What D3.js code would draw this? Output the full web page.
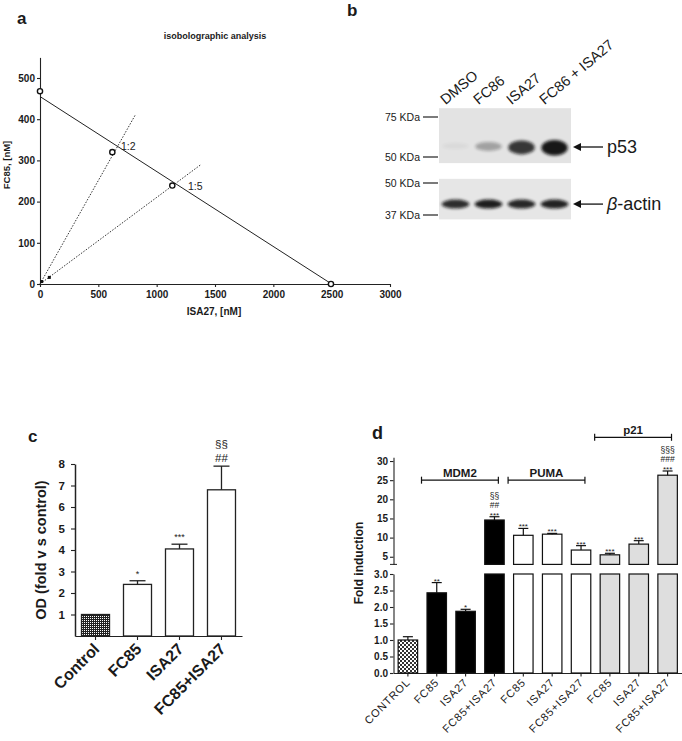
<!DOCTYPE html>
<html><head><meta charset="utf-8">
<script src="https://cdn.jsdelivr.net/npm/d3@7"></script>
<style>
body{margin:0;background:#fff}
svg{display:block}
text{font-family:"Liberation Sans",Arial,sans-serif;fill:#1a1a1a}
</style>
</head><body>
<svg id="fig" width="682" height="741"></svg>
<script>
// ---------------- DATA ----------------
// Panel a: isobologram
const isoXTicks = [0, 500, 1000, 1500, 2000, 2500, 3000];
const isoYTicks = [0, 100, 200, 300, 400, 500];
const isoboleLine = [[0, 455], [2500, 0]];
const isoPointsX = [0, 620, 1134, 2494];
const isoPointsY = [468, 320, 239, 0];
const smallPointsX = [15, 80];
const smallPointsY = [6, 16];
const ratioLabels = ["1:2", "1:5"];
const ratioEndX = [820, 1380];
const ratioEndY = [412, 290];
const ratioLabelX = [694, 1268];
const ratioLabelY = [335, 238];

// Panel b: western blot
const lanes = ["DMSO", "FC86", "ISA27", "FC86 + ISA27"];
const p53Intensity = [0.04, 0.3, 0.8, 0.95];
const actinIntensity = [0.85, 0.92, 0.88, 0.9];
const topMarkers = [75, 50];
const bottomMarkers = [50, 37];
const p53kDa = 56;
const actinkDa = 41;

// Panel c
const cCats = ["Control", "FC85", "ISA27", "FC85+ISA27"];
const cValues = [1.0, 2.4, 4.05, 6.8];
const cErrTop = [1.0, 2.57, 4.27, 7.9];
const cMarks = [[], ["*"], ["***"], ["##", "§§"]];
const cYTicks = [1, 2, 3, 4, 5, 6, 7, 8];

// Panel d
const dCats = ["CONTROL", "FC85", "ISA27", "FC85+ISA27", "FC85", "ISA27", "FC85+ISA27", "FC85", "ISA27", "FC85+ISA27"];
const dGroups = ["control", "MDM2", "MDM2", "MDM2", "PUMA", "PUMA", "PUMA", "p21", "p21", "p21"];
const dValues = [1.0, 2.43, 1.87, 14.6, 10.6, 10.9, 6.75, 5.5, 8.3, 26.3];
const dErrTop = [1.1, 2.74, 1.93, 15.45, 12.4, 11.1, 7.9, 5.9, 9.2, 27.4];
const dMarks = [[], ["**"], ["*"], ["***", "##", "§§"], ["***"], ["***"], ["***"], ["***"], ["***"], ["***", "###", "§§§"]];
const dLowerTicks = [0, 0.5, 1.0, 1.5, 2.0, 2.5, 3.0];
const dUpperTicks = [5, 10, 15, 20, 25, 30];
const dBrackets = [{name: "MDM2", from: 1, to: 3, level: 25}, {name: "PUMA", from: 4, to: 6, level: 25}, {name: "p21", from: 7, to: 9, level: 36.2}];

// ---------------- SETUP ----------------
const svg = d3.select("#fig");
const defs = svg.append("defs");
const patC = defs.append("pattern").attr("id", "patC").attr("width", 2).attr("height", 2).attr("patternUnits", "userSpaceOnUse");
patC.append("rect").attr("width", 2).attr("height", 2).attr("fill", "#222");
patC.append("rect").attr("width", 1).attr("height", 1).attr("fill", "#fff");
const patD = defs.append("pattern").attr("id", "patD").attr("width", 4).attr("height", 4).attr("patternUnits", "userSpaceOnUse");
patD.append("rect").attr("width", 4).attr("height", 4).attr("fill", "#fff");
patD.append("rect").attr("width", 2).attr("height", 2).attr("fill", "#333");
patD.append("rect").attr("x", 2).attr("y", 2).attr("width", 2).attr("height", 2).attr("fill", "#333");
const blur = defs.append("filter").attr("id", "blur").attr("x", "-50%").attr("y", "-100%").attr("width", "200%").attr("height", "300%");
blur.append("feGaussianBlur").attr("stdDeviation", 1.8);

function styleAxis(g, fs) {
  g.selectAll("path,line").attr("stroke", "#222").attr("stroke-width", 1.1);
  g.selectAll("text").attr("font-size", fs).attr("font-weight", "bold").attr("fill", "#1a1a1a").attr("font-family", "Liberation Sans, Arial, sans-serif");
}

// ---------------- PANEL A ----------------
const xA = d3.scaleLinear().domain([0, 3000]).range([40, 390]);
const yA = d3.scaleLinear().domain([0, 550]).range([284, 57.4]);
const gA = svg.append("g");
gA.append("text").attr("x", 17).attr("y", 24).attr("font-size", 17).attr("font-weight", "bold").text("a");
gA.append("text").attr("x", 215).attr("y", 39).attr("text-anchor", "middle").attr("font-size", 9).attr("font-weight", "bold").text("isobolographic analysis");
gA.append("g").attr("transform", "translate(0,284)")
  .call(d3.axisBottom(xA).tickValues(isoXTicks).tickFormat(d3.format("d")).tickSize(3).tickSizeOuter(0).tickPadding(4))
  .call(g => styleAxis(g, 10));
gA.append("g").attr("transform", "translate(40,0)")
  .call(d3.axisLeft(yA).tickValues(isoYTicks).tickSize(3).tickSizeOuter(0).tickPadding(2))
  .call(g => styleAxis(g, 10));
gA.append("text").attr("transform", "translate(10,165) rotate(-90)").attr("text-anchor", "middle").attr("font-size", 9.5).attr("font-weight", "bold").text("FC85, [nM]");
gA.append("text").attr("x", 214).attr("y", 315).attr("text-anchor", "middle").attr("font-size", 10).attr("font-weight", "bold").text("ISA27, [nM]");
const lineA = d3.line().x(d => xA(d[0])).y(d => yA(d[1]));
gA.append("path").attr("d", lineA(isoboleLine)).attr("stroke", "#222").attr("stroke-width", 1).attr("fill", "none");
ratioLabels.forEach((lab, i) => {
  gA.append("path").attr("d", lineA([[0, 0], [ratioEndX[i], ratioEndY[i]]])).attr("stroke", "#333").attr("stroke-width", 1).attr("stroke-dasharray", "1.5,1.5").attr("fill", "none");
  gA.append("text").attr("x", xA(ratioLabelX[i])).attr("y", yA(ratioLabelY[i]) + 4).attr("font-size", 10.5).text(lab);
});
gA.selectAll(".pt").data(isoPointsX).enter().append("circle")
  .attr("cx", d => xA(d)).attr("cy", (d, i) => yA(isoPointsY[i])).attr("r", 2.6)
  .attr("fill", "#fff").attr("stroke", "#111").attr("stroke-width", 1.4);
gA.selectAll(".sp").data(smallPointsX).enter().append("rect")
  .attr("x", d => xA(d) - 1.5).attr("y", (d, i) => yA(smallPointsY[i]) - 1.5).attr("width", 3).attr("height", 3).attr("fill", "#111");

// ---------------- PANEL B ----------------
const gB = svg.append("g");
gB.append("text").attr("x", 347).attr("y", 16).attr("font-size", 17).attr("font-weight", "bold").attr("font-family", "Liberation Serif, serif").text("b");
const xB = d3.scaleBand().domain(lanes).range([439, 571]);
const yTop = d3.scaleLog().domain([50, 75]).range([157, 117]);
const yBot = d3.scaleLog().domain([37, 50]).range([215, 183]);
gB.append("rect").attr("x", 439).attr("y", yTop(82)).attr("width", 132).attr("height", yTop(47) - yTop(82)).attr("fill", "#e3e3e3");
gB.append("rect").attr("x", 439).attr("y", yBot(52)).attr("width", 132).attr("height", yBot(35.5) - yBot(52)).attr("fill", "#e6e6e6");
lanes.forEach((l, i) => {
  const cx = xB(l) + xB.bandwidth() / 2;
  gB.append("ellipse").attr("cx", cx).attr("cy", yTop(p53kDa) + 2 * p53Intensity[i]).attr("rx", xB.bandwidth() * 0.4).attr("ry", 3 + 5 * p53Intensity[i])
    .attr("fill", "#111").attr("opacity", p53Intensity[i]).attr("filter", "url(#blur)");
  gB.append("ellipse").attr("cx", cx).attr("cy", yBot(actinkDa)).attr("rx", xB.bandwidth() * 0.42).attr("ry", 4.5)
    .attr("fill", "#111").attr("opacity", actinIntensity[i]).attr("filter", "url(#blur)");
  gB.append("text").attr("transform", `translate(${cx - 10},${yTop(82) - 3}) rotate(-40)`).attr("font-size", 14.5).text(l);
});
function marker(y, label) {
  gB.append("text").attr("x", 420).attr("y", y + 4).attr("text-anchor", "end").attr("font-size", 10.5).text(label + " KDa");
  gB.append("line").attr("x1", 423).attr("x2", 438).attr("y1", y).attr("y2", y).attr("stroke", "#222").attr("stroke-width", 1.2);
}
topMarkers.forEach(m => marker(yTop(m), m));
bottomMarkers.forEach(m => marker(yBot(m), m));
function arrow(y, label, italicPrefix) {
  gB.append("path").attr("d", `M573,${y} L581,${y - 4} L581,${y + 4} Z`).attr("fill", "#111");
  gB.append("line").attr("x1", 580).attr("x2", 603).attr("y1", y).attr("y2", y).attr("stroke", "#111").attr("stroke-width", 1.3);
  const t = gB.append("text").attr("x", 607).attr("y", y + 6).attr("font-size", 18);
  if (italicPrefix) t.append("tspan").attr("font-style", "italic").text(italicPrefix);
  t.append("tspan").text(label);
}
arrow(147, "p53");
arrow(yBot(actinkDa), "-actin", "β");

// ---------------- PANEL C ----------------
const gC = svg.append("g");
gC.append("text").attr("x", 28).attr("y", 442).attr("font-size", 17).attr("font-weight", "bold").text("c");
const xC = d3.scaleBand().domain(cCats).range([75, 242]).paddingInner(0.333).paddingOuter(0.155);
const yC = d3.scaleLinear().domain([0, 8]).range([636, 464]);
gC.append("g").attr("transform", "translate(75,0)")
  .call(d3.axisLeft(yC).tickValues(cYTicks).tickSize(4).tickSizeOuter(0).tickPadding(6))
  .call(g => styleAxis(g, 11.5));
gC.selectAll("path.domain").attr("stroke-width", 1.5);
gC.append("g").attr("transform", "translate(0,636)")
  .call(d3.axisBottom(xC).tickSize(4).tickSizeOuter(0).tickFormat(""))
  .call(g => styleAxis(g, 11));
gC.selectAll(".barC").data(cCats).enter().append("rect")
  .attr("x", d => xC(d)).attr("width", xC.bandwidth())
  .attr("y", (d, i) => yC(cValues[i])).attr("height", (d, i) => yC(0) - yC(cValues[i]))
  .attr("fill", (d, i) => i === 0 ? "url(#patC)" : "#fff").attr("stroke", "#222").attr("stroke-width", 1.3);
cCats.forEach((c, i) => {
  const cx = xC(c) + xC.bandwidth() / 2;
  if (cErrTop[i] > cValues[i]) {
    gC.append("line").attr("x1", cx).attr("x2", cx).attr("y1", yC(cValues[i])).attr("y2", yC(cErrTop[i])).attr("stroke", "#222").attr("stroke-width", 1.3);
    gC.append("line").attr("x1", cx - 8).attr("x2", cx + 8).attr("y1", yC(cErrTop[i])).attr("y2", yC(cErrTop[i])).attr("stroke", "#222").attr("stroke-width", 1.3);
  }
  cMarks[i].forEach((m, k) => {
    gC.append("text").attr("x", cx).attr("y", yC(cErrTop[i]) - 4 - 14 * k).attr("text-anchor", "middle").attr("font-size", m.includes("*") ? 9 : 11.5).text(m);
  });
  gC.append("text").attr("transform", `translate(${cx + 5},650) rotate(-45)`).attr("text-anchor", "end").attr("font-size", 16).attr("font-weight", "bold").text(c);
});
gC.append("text").attr("transform", "translate(46,550) rotate(-90)").attr("text-anchor", "middle").attr("font-size", 14.5).attr("font-weight", "bold").text("OD (fold v s control)");

// ---------------- PANEL D ----------------
const gD = svg.append("g");
gD.append("text").attr("x", 372).attr("y", 439).attr("font-size", 18).attr("font-weight", "bold").text("d");
const idx = d3.range(dCats.length);
const xD = d3.scaleBand().domain(idx).range([393.5, 682]).paddingInner(0.325).paddingOuter(0.161);
const yLow = d3.scaleLinear().domain([0, 3]).range([673, 574]);
const yUp = d3.scaleLinear().domain([3, 31]).range([564.4, 457.2]);
gD.append("g").attr("transform", "translate(393.5,0)")
  .call(d3.axisLeft(yLow).tickValues(dLowerTicks).tickFormat(d3.format(".1f")).tickSize(3.5).tickSizeOuter(0).tickPadding(2))
  .call(g => styleAxis(g, 10));
gD.append("g").attr("transform", "translate(393.5,0)")
  .call(d3.axisLeft(yUp).tickValues(dUpperTicks).tickSize(3.5).tickSizeOuter(0).tickPadding(2))
  .call(g => styleAxis(g, 10));
gD.append("line").attr("x1", 390).attr("x2", 397).attr("y1", yUp(3)).attr("y2", yUp(3)).attr("stroke", "#222");
gD.append("g").attr("transform", "translate(0,673)")
  .call(d3.axisBottom(xD).tickSize(3.5).tickSizeOuter(0).tickFormat(""))
  .call(g => styleAxis(g, 10));
const fillD = g => g === "control" ? "url(#patD)" : g === "MDM2" ? "#000" : g === "PUMA" ? "#fff" : "#dedede";
idx.forEach(i => {
  const x = xD(i), w = xD.bandwidth(), cx = x + w / 2, v = dValues[i], e = dErrTop[i];
  const f = fillD(dGroups[i]);
  const lowTop = Math.min(v, 3);
  gD.append("rect").attr("x", x).attr("width", w).attr("y", yLow(lowTop)).attr("height", yLow(0) - yLow(lowTop))
    .attr("fill", f).attr("stroke", "#111").attr("stroke-width", 1.2);
  let ey;
  if (v > 3) {
    gD.append("rect").attr("x", x).attr("width", w).attr("y", yUp(v)).attr("height", yUp(3) - yUp(v))
      .attr("fill", f).attr("stroke", "#111").attr("stroke-width", 1.2);
    ey = yUp(e);
    gD.append("line").attr("x1", cx).attr("x2", cx).attr("y1", yUp(v)).attr("y2", ey).attr("stroke", "#111").attr("stroke-width", 1.2);
  } else {
    ey = yLow(e);
    gD.append("line").attr("x1", cx).attr("x2", cx).attr("y1", yLow(v)).attr("y2", ey).attr("stroke", "#111").attr("stroke-width", 1.2);
  }
  gD.append("line").attr("x1", cx - 5).attr("x2", cx + 5).attr("y1", ey).attr("y2", ey).attr("stroke", "#111").attr("stroke-width", 1.2);
  dMarks[i].forEach((m, k) => {
    gD.append("text").attr("x", cx).attr("y", ey + 1 - 9.5 * k).attr("text-anchor", "middle")
      .attr("font-size", m.includes("*") ? 8 : 8.5).text(m);
  });
  gD.append("text").attr("transform", `translate(${cx + 3},683) rotate(-45)`).attr("text-anchor", "end")
    .attr("font-size", 11).attr("letter-spacing", 0.8).text(dCats[i]);
});
dBrackets.forEach(b => {
  const x1 = xD(b.from) - 5.5, x2 = xD(b.to) + xD.bandwidth() * 0.7, y = yUp(b.level);
  gD.append("line").attr("x1", x1).attr("x2", x2).attr("y1", y).attr("y2", y).attr("stroke", "#111").attr("stroke-width", 1.2);
  [x1, x2].forEach(x => gD.append("line").attr("x1", x).attr("x2", x).attr("y1", y - 3.5).attr("y2", y + 3.5).attr("stroke", "#111").attr("stroke-width", 1.2));
  gD.append("text").attr("x", (x1 + x2) / 2).attr("y", y - 3.5).attr("text-anchor", "middle").attr("font-size", 11.5).attr("font-weight", "bold").text(b.name);
});
gD.append("text").attr("transform", "translate(363,563) rotate(-90)").attr("text-anchor", "middle").attr("font-size", 12).attr("font-weight", "bold").text("Fold induction");
</script>
</body></html>
